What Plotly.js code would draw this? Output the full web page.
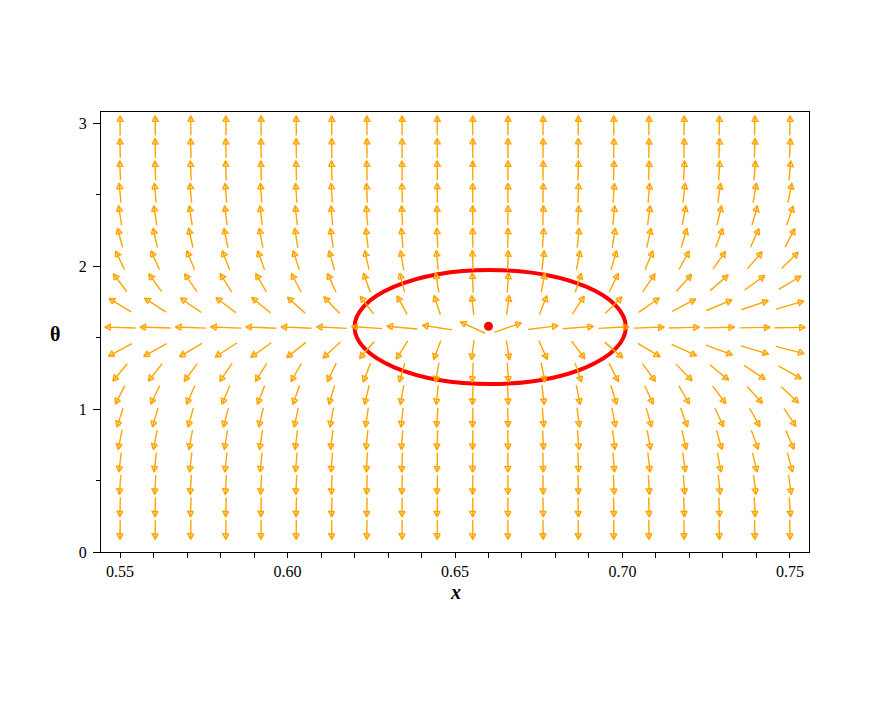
<!DOCTYPE html>
<html>
<head>
<meta charset="utf-8">
<script src="https://cdn.plot.ly/plotly-3.0.1.min.js"></script>
<style>
  body { margin: 0; background: #fff; }
  #plot { width: 872px; height: 708px; }
</style>
</head>
<body>
<div id="plot"></div>
<script>
// grid of the direction field
const xCols = [0.5500, 0.5605, 0.5711, 0.5816, 0.5921, 0.6026, 0.6132, 0.6237, 0.6342, 0.6447,
               0.6553, 0.6658, 0.6763, 0.6868, 0.6974, 0.7079, 0.7184, 0.7289, 0.7395, 0.7500];
const thetaRows = [0.157, 0.314, 0.471, 0.628, 0.785, 0.942, 1.100, 1.257, 1.414, 1.571,
                   1.728, 1.885, 2.042, 2.199, 2.356, 2.513, 2.670, 2.827, 2.985];

// horizontal push per column, vertical push per row (estimated from arrow slopes)
const colPush = [-1.04, -0.98, -0.92, -0.85, -0.78, -0.70, -0.60, -0.48, -0.35, -0.21,
                 -0.07, 0.09, 0.25, 0.42, 0.64, 0.92, 1.20, 1.52, 1.86, 2.20];
const rowPush = [-150, -50, -24, -12.5, -8, -5.2, -3.2, -1.95, -0.87, 0.05,
                 1.0, 2.1, 3.4, 6.5, 10, 17, 38, 80, 200];

// closed orbit (bounding box) and equilibrium point
const orbitX = [0.620, 0.701];
const orbitTheta = [1.176, 1.974];
const eqX = [0.660];
const eqTheta = [1.580];

const xTickVals = [0.55, 0.60, 0.65, 0.70, 0.75];
const xTickText = ['0.55', '0.60', '0.65', '0.70', '0.75'];
const yTickVals = [0, 1, 2, 3];
const yTickText = ['0', '1', '2', '3'];

const W = 872, H = 708;
const margin = { l: 101, r: 63, t: 112, b: 156, pad: 0 };
const xRange = [0.5443, 0.7557];
const yRange = [0, 3.08];

const ARROW_COLOR = '#FFA500';
const HEAD_LEN = 5.5;   // px
const HEAD_HALF = 3;    // px

// pixels per data unit, from the layout
const pxX = (W - margin.l - margin.r) / (xRange[1] - xRange[0]);
const pxY = (H - margin.t - margin.b) / (yRange[1] - yRange[0]);

function buildArrows() {
    const ax = [], ay = [];
    const cellX = xCols[1] - xCols[0];
    const cellT = thetaRows[1] - thetaRows[0];
    const half = 0.435;

    thetaRows.forEach((th, k) => {
        xCols.forEach((x, i) => {
            const u = colPush[i], w = rowPush[k];
            const n = Math.hypot(u, w);
            const dx = u / n * half * cellX;
            const dt = w / n * half * cellT;
            const hx = x + dx, ht = th + dt;

            // direction on screen
            const sx = dx * pxX, sy = dt * pxY;
            const m = Math.hypot(sx, sy);
            const ex = sx / m, ey = sy / m;
            const bx = hx - ex * HEAD_LEN / pxX;
            const bt = ht - ey * HEAD_LEN / pxY;
            const c1x = bx - ey * HEAD_HALF / pxX, c1t = bt + ex * HEAD_HALF / pxY;
            const c2x = bx + ey * HEAD_HALF / pxX, c2t = bt - ex * HEAD_HALF / pxY;

            ax.push(x - dx, hx, null, c1x, hx, c2x, c1x, null);
            ay.push(th - dt, ht, null, c1t, ht, c2t, c1t, null);
        });
    });
    return { x: ax, y: ay };
}

const arrows = buildArrows();

const traces = [
    {
        type: 'scatter',
        mode: 'lines',
        x: arrows.x,
        y: arrows.y,
        line: { color: ARROW_COLOR, width: 1.4 },
        hoverinfo: 'skip',
        showlegend: false
    },
    {
        type: 'scatter',
        mode: 'markers',
        x: eqX,
        y: eqTheta,
        marker: { color: '#FF0000', size: 9 },
        showlegend: false
    }
];

const serif = "'Liberation Serif', 'Times New Roman', serif";

const layout = {
    width: W,
    height: H,
    margin: margin,
    paper_bgcolor: '#fff',
    plot_bgcolor: '#fff',
    showlegend: false,
    font: { family: serif, size: 16, color: '#000' },
    xaxis: {
        range: xRange,
        tickvals: xTickVals,
        ticktext: xTickText,
        ticks: 'outside',
        ticklen: 5,
        tickcolor: '#000',
        minor: { dtick: 0.01, tick0: 0.55, ticks: 'outside', ticklen: 5, tickcolor: '#000' },
        showline: true,
        linecolor: '#000',
        linewidth: 1,
        mirror: true,
        showgrid: false,
        zeroline: false,
        tickfont: { family: serif, size: 16 }
    },
    yaxis: {
        range: yRange,
        tickvals: yTickVals,
        ticktext: yTickText,
        ticks: 'outside',
        ticklen: 7,
        tickcolor: '#000',
        ticklabelstandoff: 3,
        minor: { dtick: 0.5, tick0: 0, ticks: 'outside', ticklen: 4, tickcolor: '#000' },
        showline: true,
        linecolor: '#000',
        linewidth: 1,
        mirror: true,
        showgrid: false,
        zeroline: false,
        tickfont: { family: serif, size: 16 }
    },
    shapes: [{
        type: 'circle',
        xref: 'x', yref: 'y',
        x0: orbitX[0], x1: orbitX[1],
        y0: orbitTheta[0], y1: orbitTheta[1],
        line: { color: '#FF0000', width: 4 },
        layer: 'below'
    }],
    annotations: [
        {
            text: '<b><i>x</i></b>',
            xref: 'paper', yref: 'paper',
            x: 0.5, y: -0.092,
            xanchor: 'center', yanchor: 'middle',
            showarrow: false,
            font: { family: serif, size: 20 }
        },
        {
            text: '<b>θ</b>',
            xref: 'paper', yref: 'paper',
            x: -0.065, y: 0.495,
            xanchor: 'center', yanchor: 'middle',
            showarrow: false,
            font: { family: serif, size: 20 }
        }
    ]
};

Plotly.newPlot('plot', traces, layout, { displayModeBar: false, staticPlot: true });
</script>
</body>
</html>
